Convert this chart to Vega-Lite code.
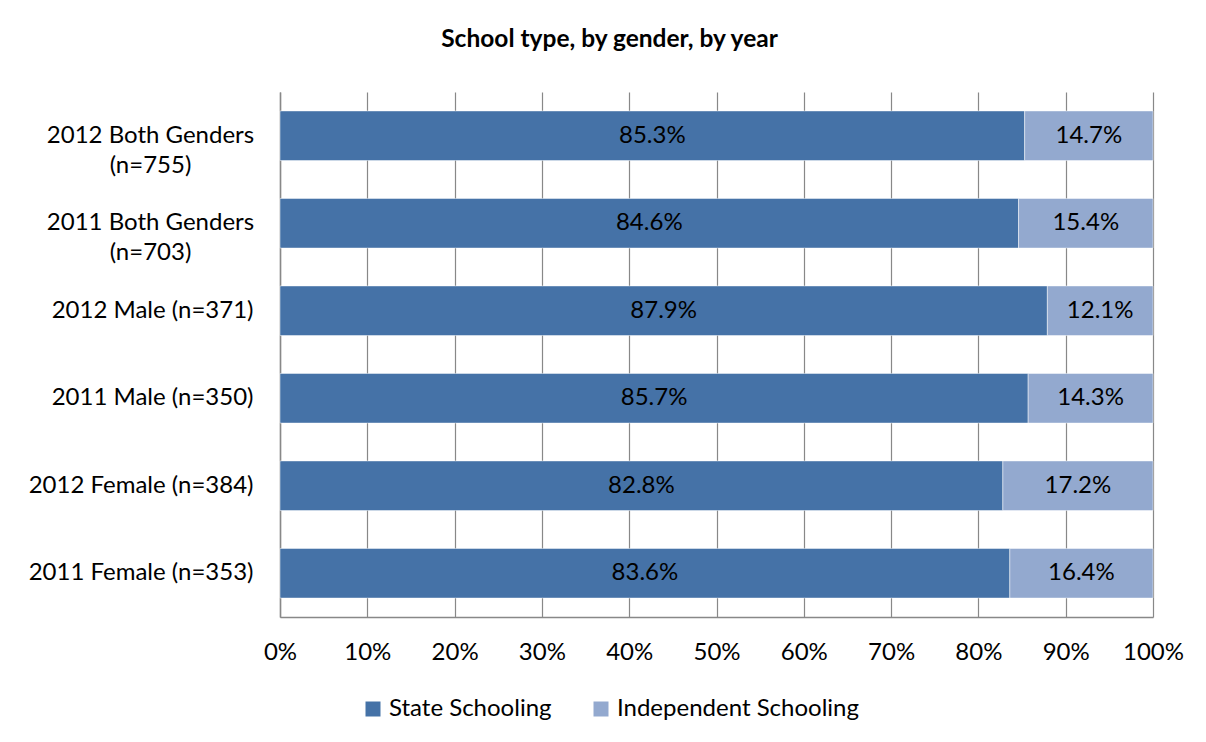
{
  "$schema": "https://vega.github.io/schema/vega-lite/v6.json",
  "width": 873,
  "height": 525,
  "autosize": {"type": "none"},
  "padding": {"left": 280, "top": 92, "right": 53, "bottom": 125},
  "background": "white",
  "config": {
    "font": "Lato",
    "view": {"stroke": null}
  },
  "title": {
    "text": "School type, by gender, by year",
    "font": "Lato",
    "fontSize": 24.5,
    "fontWeight": "bold",
    "color": "#000000",
    "anchor": "middle",
    "frame": "group",
    "dx": -107,
    "offset": 40
  },
  "data": {
    "values": [
      {"group": "2012 Both Genders|(n=755)", "type": "State Schooling", "share": 0.853},
      {"group": "2012 Both Genders|(n=755)", "type": "Independent Schooling", "share": 0.147},
      {"group": "2011 Both Genders|(n=703)", "type": "State Schooling", "share": 0.846},
      {"group": "2011 Both Genders|(n=703)", "type": "Independent Schooling", "share": 0.154},
      {"group": "2012 Male (n=371)", "type": "State Schooling", "share": 0.879},
      {"group": "2012 Male (n=371)", "type": "Independent Schooling", "share": 0.121},
      {"group": "2011 Male (n=350)", "type": "State Schooling", "share": 0.857},
      {"group": "2011 Male (n=350)", "type": "Independent Schooling", "share": 0.143},
      {"group": "2012 Female (n=384)", "type": "State Schooling", "share": 0.828},
      {"group": "2012 Female (n=384)", "type": "Independent Schooling", "share": 0.172},
      {"group": "2011 Female (n=353)", "type": "State Schooling", "share": 0.836},
      {"group": "2011 Female (n=353)", "type": "Independent Schooling", "share": 0.164}
    ]
  },
  "transform": [
    {"stack": "share", "groupby": ["group"], "sort": [{"field": "type", "order": "descending"}], "as": ["s0", "s1"]}
  ],
  "encoding": {
    "y": {
      "field": "group",
      "type": "nominal",
      "sort": ["2012 Both Genders|(n=755)", "2011 Both Genders|(n=703)", "2012 Male (n=371)", "2011 Male (n=350)", "2012 Female (n=384)", "2011 Female (n=353)"],
      "title": null,
      "scale": {"paddingInner": 0.433, "paddingOuter": 0.2165},
      "axis": {
        "labelExpr": "split(datum.label, '|')",
        "labelFont": "Lato",
        "labelFontSize": 24,
        "labelColor": "#000000",
        "labelLimit": 400,
        "labelLineHeight": 30,
        "labelAlign": {"condition": {"test": "indexof(datum.value, '|') >= 0", "value": "center"}, "value": "right"},
        "labelPadding": {"condition": {"test": "indexof(datum.value, '|') >= 0", "value": 130}, "value": 27},
        "ticks": false,
        "domain": true,
        "domainColor": "#888888",
        "domainWidth": 1.5,
        "grid": false
      }
    }
  },
  "layer": [
    {
      "mark": {"type": "bar", "stroke": "#ffffff", "strokeWidth": 0.8, "strokeOpacity": 0.6},
      "encoding": {
        "x": {
          "field": "s0",
          "type": "quantitative",
          "scale": {"domain": [0, 1], "nice": false},
          "title": null,
          "axis": {
            "format": "%",
            "values": [0, 0.1, 0.2, 0.3, 0.4, 0.5, 0.6, 0.7, 0.8, 0.9, 1],
            "labelFont": "Lato",
            "labelFontSize": 24,
            "labelColor": "#000000",
            "labelPadding": 23,
            "ticks": false,
            "domain": true,
            "domainColor": "#888888",
            "domainWidth": 1.5,
            "grid": true,
            "gridColor": "#888888",
            "gridWidth": 1.2,
            "labelFlush": false
          }
        },
        "x2": {"field": "s1"},
        "color": {
          "field": "type",
          "type": "nominal",
          "sort": ["State Schooling", "Independent Schooling"],
          "scale": {"domain": ["State Schooling", "Independent Schooling"], "range": ["#4572A7", "#93A9CF"]},
          "legend": {
            "title": null,
            "orient": "none",
            "direction": "horizontal",
            "legendX": 81,
            "legendY": 605,
            "padding": 0,
            "symbolType": "square",
            "symbolSize": 225,
            "symbolStrokeWidth": 0,
            "labelFont": "Lato",
            "labelFontSize": 24,
            "labelColor": "#000000",
            "labelOffset": 4,
            "columnPadding": 37,
            "labelLimit": 400
          }
        }
      }
    },
    {
      "transform": [
        {"fold": ["s0", "s1"], "as": ["edge", "pos"]},
        {"aggregate": [{"op": "mean", "field": "pos", "as": "mid"}, {"op": "max", "field": "share", "as": "share"}], "groupby": ["group", "type"]}
      ],
      "mark": {"type": "text", "font": "Lato", "fontSize": 24, "color": "#000000", "align": "center", "baseline": "middle"},
      "encoding": {
        "x": {"field": "mid", "type": "quantitative"},
        "text": {"field": "share", "type": "quantitative", "format": ".1%"}
      }
    }
  ]
}
